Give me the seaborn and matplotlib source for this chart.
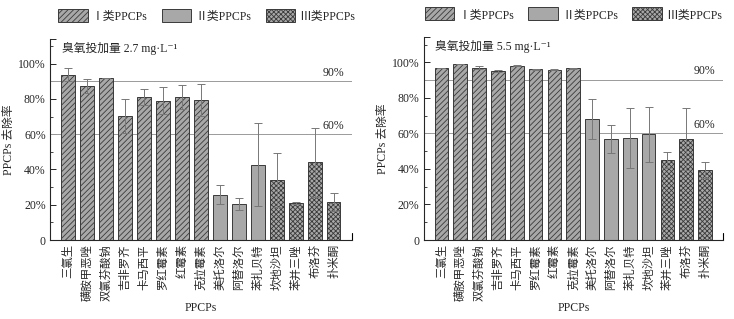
import numpy as np
import pandas as pd
import matplotlib
matplotlib.use("Agg")
import matplotlib.pyplot as plt
import matplotlib.transforms as mtransforms
from matplotlib.patches import Patch
import seaborn as sns

# PPCP names (x categories)
names = ["三氯生", "磺胺甲恶唑", "双氯芬酸钠", "吉非罗齐", "卡马西平", "罗红霉素",
         "红霉素", "克拉霉素", "美托洛尔", "阿替洛尔", "苯扎贝特", "坎地沙坦",
         "苯并三唑", "布洛芬", "扑米酮"]

# class of each PPCP in each panel
cls_27 = ["I"] * 8 + ["II"] * 3 + ["III"] * 4
cls_55 = ["I"] * 8 + ["II"] * 4 + ["III"] * 3

# removal rate (%) and error, ozone dose 2.7 mg/L
rate_27 = [93.8, 87.5, 91.9, 70.3, 81.0, 79.0, 81.0, 79.5,
           25.8, 20.5, 42.8, 34.2, 20.9, 44.0, 21.5]
err_27 = [3.6, 4.0, 0.0, 9.6, 4.6, 7.7, 6.8, 9.0,
          5.2, 3.6, 23.5, 15.4, 0.4, 19.8, 5.2]

# removal rate (%) and error, ozone dose 5.5 mg/L
rate_55 = [97.0, 99.3, 97.0, 95.0, 98.1, 96.0, 95.8, 96.6,
           68.1, 56.9, 57.4, 59.6, 45.1, 56.9, 39.4]
err_55 = [0.0, 0.0, 1.0, 0.6, 0.3, 0.3, 0.2, 0.4,
          11.5, 7.7, 16.8, 15.5, 4.6, 17.3, 4.3]

classes = ["I", "II", "III"]
legend_labels = ["Ⅰ类PPCPs", "Ⅱ类PPCPs", "Ⅲ类PPCPs"]
hatches = {"I": "//////", "II": "", "III": "xxxxxxx"}
fill = "#a8a8a8"
edge = "#3a3a3a"

sns.set_style("ticks")
plt.rcParams["font.family"] = ["Liberation Serif", "Noto Sans CJK SC", "DejaVu Sans"]
plt.rcParams["hatch.linewidth"] = 0.6
plt.rcParams["axes.linewidth"] = 0.8

fig = plt.figure(figsize=(7.34, 3.19), dpi=100)
ax1 = fig.add_axes([0.068, 0.2476, 0.411, 0.630])
ax2 = fig.add_axes([0.577, 0.2476, 0.408, 0.635])

panels = [
    (ax1, rate_27, err_27, cls_27, "臭氧投加量 2.7 mg·L⁻¹", 0.52),
    (ax2, rate_55, err_55, cls_55, "臭氧投加量 5.5 mg·L⁻¹", 0.5),
]

for ax, rate, err, cls, title, lx in panels:
    df = pd.DataFrame({"name": names, "rate": rate, "cls": cls})
    sns.barplot(data=df, x="name", y="rate", hue="cls", hue_order=classes,
                order=names, dodge=False, width=0.73, palette=[fill] * 3,
                edgecolor=edge, linewidth=0.7, legend=False, saturation=1,
                ax=ax, zorder=2)
    for c, cont in zip(classes, ax.containers):
        for bar in cont:
            bar.set_hatch(hatches[c])
    ax.errorbar(np.arange(len(names)), rate, yerr=err, fmt="none",
                ecolor="#777777", elinewidth=0.7, capsize=3, capthick=0.7,
                zorder=3)

    ax.set_xlim(-0.95, 14.95)
    ax.set_ylim(0, 114)
    ax.set_yticks([0, 20, 40, 60, 80, 100, 114])
    ax.set_yticklabels(["0", "20%", "40%", "60%", "80%", "100%", ""])
    ax.set_yticks([10, 30, 50, 70, 90, 110], minor=True)
    ax.tick_params(axis="y", direction="in", length=4, width=0.7,
                   labelsize=8.5, pad=3)
    ax.tick_params(axis="y", which="minor", direction="in", length=2, width=0.6)
    ax.tick_params(axis="x", length=0, labelsize=8.2, pad=3)
    for lab in ax.get_xticklabels():
        lab.set_rotation(90)
    sns.despine(ax=ax)
    ax.plot([1, 1], [0, 0.035], transform=ax.transAxes, color="black",
            lw=0.8, clip_on=False)

    tr = mtransforms.blended_transform_factory(ax.transAxes, ax.transData)
    for ref in (90, 60):
        ax.axhline(ref, color="#9a9a9a", lw=0.7, zorder=1)
        ax.text(0.975, ref + 1.5, f"{ref}%", transform=tr, ha="right",
                va="bottom", fontsize=8.5)

    ax.text(0.04, 0.985, title, transform=ax.transAxes, ha="left", va="top",
            fontsize=8.5)
    ax.set_xlabel("PPCPs", fontsize=8.5, labelpad=1)
    ax.set_ylabel("PPCPs 去除率", fontsize=8.5, labelpad=2)

    handles = [Patch(facecolor=fill, edgecolor=edge, hatch=hatches[c], lw=0.7)
               for c in classes]
    ax.legend(handles, legend_labels, loc="lower center",
              bbox_to_anchor=(lx, 1.06), ncol=3, frameon=False,
              fontsize=8.5, handlelength=2.5, handleheight=1.3,
              handletextpad=0.35, columnspacing=1.2, borderaxespad=0)

fig.savefig("out.png", dpi=100)
